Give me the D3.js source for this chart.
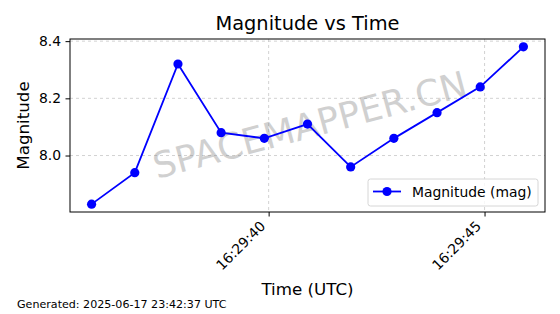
<!DOCTYPE html>
<html>
<head>
<meta charset="utf-8">
<script src="https://cdn.jsdelivr.net/npm/d3@7"></script>
<style>
  body { margin: 0; background: #fff; }
  text { font-family: "DejaVu Sans", sans-serif; }
</style>
</head>
<body>
<svg id="chart1"></svg>
<script>
let w = 560;
let h = 314;

// data
let times = ["16:29:35.9", "16:29:36.9", "16:29:37.9", "16:29:38.9", "16:29:39.9", "16:29:40.9",
             "16:29:41.9", "16:29:42.9", "16:29:43.9", "16:29:44.9", "16:29:45.9"];
let magnitudes = [7.83, 7.94, 8.32, 8.08, 8.06, 8.11, 7.96, 8.06, 8.15, 8.24, 8.38];
let xTickLabels = ["16:29:40", "16:29:45"];
let yTickValues = [8.0, 8.2, 8.4];

let parseTime = d3.utcParse("%H:%M:%S.%L");
let parseTick = d3.utcParse("%H:%M:%S");
let fmtTick = d3.utcFormat("%H:%M:%S");

let dataset = times.map((t, i) => ({ date: parseTime(t + "00"), mag: magnitudes[i] }));

let mLeft = 70, mRight = 545, mTop = 39, mBottom = 212;

let svg = d3.select('#chart1').attr('width', w).attr('height', h);

// matplotlib-like 5% margins
let tMin = d3.min(dataset, d => d.date), tMax = d3.max(dataset, d => d.date);
let tPad = (tMax - tMin) * 0.05;
let xScale = d3.scaleUtc()
  .domain([new Date(+tMin - tPad), new Date(+tMax + tPad)])
  .range([mLeft, mRight]);

let yMin = d3.min(magnitudes), yMax = d3.max(magnitudes);
let yPad = (yMax - yMin) * 0.05;
let yScale = d3.scaleLinear()
  .domain([yMin - yPad, yMax + yPad])
  .range([mBottom, mTop]);

let xTicks = xTickLabels.map(parseTick);

// grid
let grid = svg.append('g').attr('stroke', '#b0b0b0').attr('stroke-width', 0.8)
  .attr('stroke-dasharray', '3,3').attr('opacity', 0.7);
grid.selectAll('.gx').data(xTicks).enter().append('line')
  .attr('x1', d => xScale(d)).attr('x2', d => xScale(d))
  .attr('y1', mTop).attr('y2', mBottom);
grid.selectAll('.gy').data(yTickValues).enter().append('line')
  .attr('x1', mLeft).attr('x2', mRight)
  .attr('y1', d => yScale(d)).attr('y2', d => yScale(d));

// watermark
svg.append('text')
  .attr('transform', `translate(${(mLeft + mRight) / 2 + 3},${(mTop + mBottom) / 2 + 2}) rotate(-15)`)
  .attr('text-anchor', 'middle').attr('dominant-baseline', 'middle')
  .attr('font-size', 36).attr('fill', '#808080').attr('opacity', 0.36)
  .text('SPACEMAPPER.CN');

// line + points
let line = d3.line().x(d => xScale(d.date)).y(d => yScale(d.mag));
svg.append('path').datum(dataset)
  .attr('d', line).attr('fill', 'none').attr('stroke', '#0000ff').attr('stroke-width', 1.8);
svg.selectAll('circle.pt').data(dataset).enter().append('circle')
  .attr('class', 'pt')
  .attr('cx', d => xScale(d.date)).attr('cy', d => yScale(d.mag))
  .attr('r', 4.6).attr('fill', '#0000ff');

// AXES
let xAxis = d3.axisBottom(xScale).tickValues(xTicks).tickFormat(fmtTick).tickSizeOuter(0).tickSize(4.5);
let yAxis = d3.axisLeft(yScale).tickValues(yTickValues).tickFormat(d3.format('.1f')).tickSizeOuter(0).tickSize(4.5);

let xAxisGroup = svg.append('g').attr('transform', `translate(0,${mBottom})`).call(xAxis);
xAxisGroup.select('.domain').remove();
xAxisGroup.selectAll('text')
  .attr('font-size', 13.9).attr('fill', '#000').attr('font-family', 'DejaVu Sans')
  .attr('text-anchor', 'end').attr('dy', null).attr('y', 0)
  .attr('transform', 'translate(-3,15) rotate(-45)');

let yAxisGroup = svg.append('g').attr('transform', `translate(${mLeft},0)`).call(yAxis);
yAxisGroup.select('.domain').remove();
yAxisGroup.selectAll('text').attr('font-size', 13.9).attr('fill', '#000')
  .attr('font-family', 'DejaVu Sans').attr('x', -9);

svg.append('rect').attr('x', mLeft).attr('y', mTop)
  .attr('width', mRight - mLeft).attr('height', mBottom - mTop)
  .attr('fill', 'none').attr('stroke', '#000').attr('stroke-width', 1);

// legend
let lg = svg.append('g').attr('transform', 'translate(368,179)');
lg.append('rect').attr('width', 170).attr('height', 27).attr('rx', 2.5)
  .attr('fill', '#fff').attr('fill-opacity', 0.8).attr('stroke', '#d6d6d6');
lg.append('line').attr('x1', 5).attr('x2', 33).attr('y1', 12.5).attr('y2', 12.5)
  .attr('stroke', '#0000ff').attr('stroke-width', 1.8);
lg.append('circle').attr('cx', 19).attr('cy', 12.5).attr('r', 4.6).attr('fill', '#0000ff');
lg.append('text').attr('x', 44).attr('y', 17.5).attr('font-size', 13.9).text('Magnitude (mag)');

// titles
svg.append('text').attr('x', (mLeft + mRight) / 2).attr('y', 30)
  .attr('text-anchor', 'middle').attr('font-size', 19.4).text('Magnitude vs Time');
svg.append('text').attr('x', (mLeft + mRight) / 2).attr('y', 295)
  .attr('text-anchor', 'middle').attr('font-size', 16.7).text('Time (UTC)');
svg.append('text').attr('transform', `translate(29,${(mTop + mBottom) / 2}) rotate(-90)`)
  .attr('text-anchor', 'middle').attr('font-size', 16.7).text('Magnitude');
svg.append('text').attr('x', 17).attr('y', 308).attr('font-size', 11.1)
  .text('Generated: 2025-06-17 23:42:37 UTC');
</script>
</body>
</html>
